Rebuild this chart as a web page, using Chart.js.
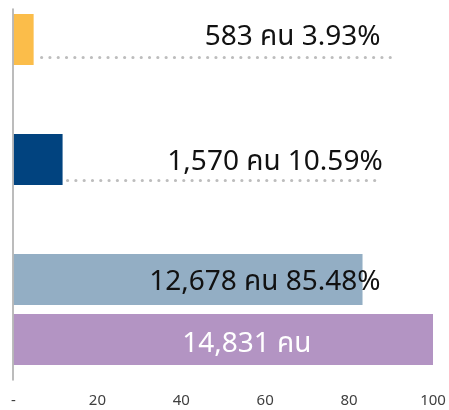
<!DOCTYPE html>
<html>
<head>
<meta charset="utf-8">
<script src="https://cdn.jsdelivr.net/npm/chart.js@4.4.1/dist/chart.umd.min.js"></script>
<style>
  html, body { margin: 0; padding: 0; background: #ffffff; }
  #wrap { width: 449px; height: 410px; position: relative; }
</style>
</head>
<body>
<div id="wrap"><canvas id="c" width="449" height="410"></canvas></div>
<script>
// ---- data ----
const categories = ['583 คน', '', '1,570 คน', '', '12,678 คน', 'รวม'];
const barValues = [4.8, null, 11.7, null, 83.2, 100];
const barLabels = ['583 คน 3.93%', '', '1,570 คน 10.59%', '', '12,678 คน 85.48%', '14,831 คน'];
const xTickValues = [0, 20, 40, 60, 80, 100];
const xTickLabels = ['-', '20', '40', '60', '80', '100'];

// ---- styles ----
const barColors = ['#FBBD4A', 'rgba(0,0,0,0)', '#01437F', 'rgba(0,0,0,0)', '#93AEC4', '#B394C3'];
const FONT = "Tahoma, 'Noto Sans Thai', 'Leelawadee UI', 'Noto Sans', 'DejaVu Sans', sans-serif";

// label layout (in axis units / pixel offsets)
const labelLayout = [
  { align: 'right', at: 87.5, dy: 5.5, color: '#111111', dots: { gap: 8, to: 90.2, dy: 18 } },
  null,
  { align: 'right', at: 88.0, dy: 10.5, color: '#111111', dots: { gap: 5, to: 86.6, dy: 21 } },
  null,
  { align: 'right', at: 87.5, dy: 10, color: '#111111' },
  { align: 'center', at: 55.6, dy: 12.5, color: '#ffffff' }
];

const labelPlugin = {
  id: 'barText',
  afterDatasetsDraw(chart) {
    const ctx = chart.ctx;
    const xs = chart.scales.x;
    const meta = chart.getDatasetMeta(0);
    ctx.save();
    meta.data.forEach((bar, i) => {
      const lay = labelLayout[i];
      if (!lay || !barLabels[i]) return;
      const cy = bar.y;
      if (lay.dots) {
        ctx.beginPath();
        ctx.strokeStyle = '#BDBDBD';
        ctx.lineWidth = 3.2;
        ctx.lineCap = 'round';
        ctx.setLineDash([0, 8.3]);
        const y = cy + lay.dots.dy;
        ctx.moveTo(bar.x + lay.dots.gap, y);
        ctx.lineTo(xs.getPixelForValue(lay.dots.to), y);
        ctx.stroke();
        ctx.setLineDash([]);
      }
      ctx.font = '28px ' + FONT;
      ctx.fillStyle = lay.color;
      ctx.textAlign = lay.align;
      ctx.textBaseline = 'alphabetic';
      ctx.fillText(barLabels[i], xs.getPixelForValue(lay.at), cy + lay.dy);
    });
    // vertical axis line
    const x0 = xs.getPixelForValue(0) - 0.5;
    ctx.beginPath();
    ctx.strokeStyle = '#A6A6A6';
    ctx.lineWidth = 1.5;
    ctx.moveTo(x0, chart.chartArea.top - 0.5);
    ctx.lineTo(x0, chart.chartArea.bottom + 10.5);
    ctx.stroke();
    ctx.restore();
  }
};

new Chart(document.getElementById('c'), {
  type: 'bar',
  data: {
    labels: categories,
    datasets: [{
      data: barValues,
      backgroundColor: barColors,
      borderWidth: 0,
      barPercentage: 0.85,
      categoryPercentage: 1.0
    }]
  },
  options: {
    indexAxis: 'y',
    responsive: false,
    animation: false,
    events: [],
    layout: { padding: { top: 9.5, left: 13.5, right: 16, bottom: 0 } },
    plugins: { legend: { display: false }, tooltip: { enabled: false } },
    scales: {
      y: { display: false },
      x: {
        min: 0, max: 100,
        afterBuildTicks(s) { s.ticks = xTickValues.map(v => ({ value: v })); },
        grid: { display: false, drawTicks: false },
        border: { display: false },
        ticks: {
          color: '#404040',
          font: { family: FONT, size: 15 },
          padding: 23,
          maxRotation: 0,
          autoSkip: false,
          callback(v, idx) { return xTickLabels[idx]; }
        },
        afterFit(s) { s.height = 40.5; s.paddingLeft = 0; s.paddingRight = 0; }
      }
    }
  },
  plugins: [labelPlugin]
});
</script>
</body>
</html>
